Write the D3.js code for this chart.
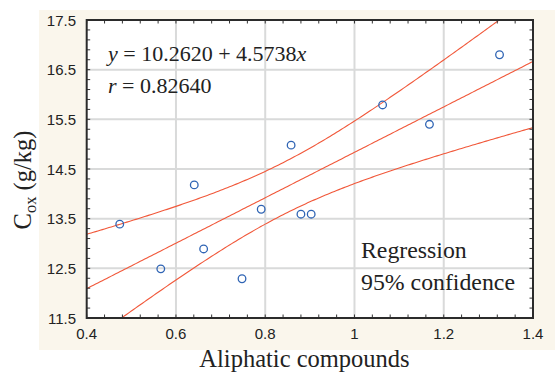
<!DOCTYPE html>
<html><head><meta charset="utf-8">
<script src="https://cdn.jsdelivr.net/npm/d3@7"></script>
<style>body{margin:0;background:#fff}svg{display:block}</style>
</head><body><svg id="c" width="555" height="374"></svg>
<script>
// ---- data ----
const xValues = [0.474, 0.566, 0.641, 0.662, 0.748, 0.791, 0.858, 0.880, 0.903, 1.063, 1.168, 1.325];
const yValues = [13.39, 12.49, 14.18, 12.89, 12.29, 13.69, 14.98, 13.59, 13.59, 15.79, 15.40, 16.80];
const xTicks = [0.4, 0.6, 0.8, 1.0, 1.2, 1.4];
const xTickLabels = ["0.4", "0.6", "0.8", "1", "1.2", "1.4"];
const yTicks = [11.5, 12.5, 13.5, 14.5, 15.5, 16.5, 17.5];
const yTickLabels = ["11.5", "12.5", "13.5", "14.5", "15.5", "16.5", "17.5"];
const intercept = 10.2620, slope = 4.5738, rText = "0.82640";
const tCrit = 2.228; // t(0.975, n-2 = 10)
const legendLines = ["Regression", "95% confidence"];

// ---- layout ----
const svg = d3.select("#c");
const L = 86.7, R = 533, T = 20, B = 318;
const x = d3.scaleLinear().domain([0.4, 1.4]).range([L, R]);
const y = d3.scaleLinear().domain([11.5, 17.5]).range([B, T]);

svg.append("rect").attr("x", 39).attr("y", 10).attr("width", 516).attr("height", 340).attr("fill", "#faf6ec");
svg.append("rect").attr("x", L).attr("y", T).attr("width", R - L).attr("height", B - T).attr("fill", "#fff");

// grid
const grid = svg.append("g").attr("stroke", "#d9dada").attr("stroke-width", 2);
grid.selectAll("line.gx").data(xTicks.slice(1, -1)).join("line")
  .attr("x1", d => x(d)).attr("x2", d => x(d)).attr("y1", T).attr("y2", B);
grid.selectAll("line.gy").data(yTicks.slice(1, -1)).join("line")
  .attr("y1", d => y(d)).attr("y2", d => y(d)).attr("x1", L).attr("x2", R);

// clip
svg.append("clipPath").attr("id", "clip").append("rect")
  .attr("x", L).attr("y", T).attr("width", R - L).attr("height", B - T);

// regression & confidence band
const n = xValues.length;
const mx = d3.mean(xValues);
const sxx = d3.sum(xValues, v => (v - mx) ** 2);
const sse = d3.sum(xValues.map((v, i) => (yValues[i] - (intercept + slope * v)) ** 2));
const s = Math.sqrt(sse / (n - 2));
const xs = d3.range(0, 201).map(i => 0.4 + i * 0.005);
const fit = v => intercept + slope * v;
const half = v => tCrit * s * Math.sqrt(1 / n + (v - mx) ** 2 / sxx);
const line = d3.line().x(d => x(d[0])).y(d => y(d[1]));
const lg = svg.append("g").attr("clip-path", "url(#clip)").attr("fill", "none")
  .attr("stroke", "#f1583a").attr("stroke-width", 1.1);
lg.append("path").attr("d", line(xs.map(v => [v, fit(v)])));
lg.append("path").attr("d", line(xs.map(v => [v, fit(v) + half(v)])));
lg.append("path").attr("d", line(xs.map(v => [v, fit(v) - half(v)])));

// points
svg.append("g").selectAll("circle").data(xValues).join("circle")
  .attr("cx", d => x(d)).attr("cy", (d, i) => y(yValues[i])).attr("r", 3.8)
  .attr("fill", "none").attr("stroke", "#2f64b4").attr("stroke-width", 1.3);

// axes: minor ticks inward
const tk = svg.append("g").attr("stroke", "#333").attr("stroke-width", 1);
const xMinor = d3.range(0, 26).map(i => 0.4 + i * 0.04);
const yMinor = d3.range(0, 31).map(i => 11.5 + i * 0.2);
xMinor.forEach(v => {
  tk.append("line").attr("x1", x(v)).attr("x2", x(v)).attr("y1", B).attr("y2", B - 3.5);
  tk.append("line").attr("x1", x(v)).attr("x2", x(v)).attr("y1", T).attr("y2", T + 3.5);
});
yMinor.forEach(v => {
  tk.append("line").attr("y1", y(v)).attr("y2", y(v)).attr("x1", L).attr("x2", L + 3.5);
  tk.append("line").attr("y1", y(v)).attr("y2", y(v)).attr("x1", R).attr("x2", R - 3.5);
});
svg.append("rect").attr("x", L).attr("y", T).attr("width", R - L).attr("height", B - T)
  .attr("fill", "none").attr("stroke", "#2b2b2b").attr("stroke-width", 2);

// tick labels
const tf = "'Liberation Sans', Arial, sans-serif";
svg.append("g").selectAll("text").data(xTicks).join("text")
  .attr("x", d => x(d)).attr("y", 339).attr("text-anchor", "middle")
  .attr("font-family", tf).attr("font-size", 15).attr("fill", "#222")
  .text((d, i) => xTickLabels[i]);
svg.append("g").selectAll("text").data(yTicks).join("text")
  .attr("x", 76).attr("y", d => y(d) + 5.5).attr("text-anchor", "end")
  .attr("font-family", tf).attr("font-size", 15).attr("fill", "#222")
  .text((d, i) => yTickLabels[i]);

// titles
const sf = "'Liberation Serif', 'Times New Roman', serif";
svg.append("text").attr("x", 304.5).attr("y", 367).attr("text-anchor", "middle")
  .attr("font-family", sf).attr("font-size", 24.5).attr("fill", "#222").text("Aliphatic compounds");
const yl = svg.append("text").attr("transform", "translate(31,180) rotate(-90)").attr("text-anchor", "middle")
  .attr("font-family", sf).attr("font-size", 24.5).attr("fill", "#222");
yl.append("tspan").text("C");
yl.append("tspan").attr("font-size", 16.5).attr("dy", 5).text("ox");
yl.append("tspan").attr("dy", -5).text(" (g/kg)");

// equation
const eq = svg.append("text").attr("x", 108).attr("y", 61).attr("font-family", sf)
  .attr("font-size", 22).attr("fill", "#222");
eq.append("tspan").attr("font-style", "italic").text("y");
eq.append("tspan").text(" = " + intercept.toFixed(4) + " + " + slope.toFixed(4));
eq.append("tspan").attr("font-style", "italic").text("x");
const rt = svg.append("text").attr("x", 108).attr("y", 93).attr("font-family", sf)
  .attr("font-size", 22).attr("fill", "#222");
rt.append("tspan").attr("font-style", "italic").text("r");
rt.append("tspan").text(" = " + rText);

// legend
svg.append("g").selectAll("text").data(legendLines).join("text")
  .attr("x", 361).attr("y", (d, i) => 258 + i * 32).attr("font-family", sf)
  .attr("font-size", 23.8).attr("fill", "#222").text(d => d);
</script></body></html>
